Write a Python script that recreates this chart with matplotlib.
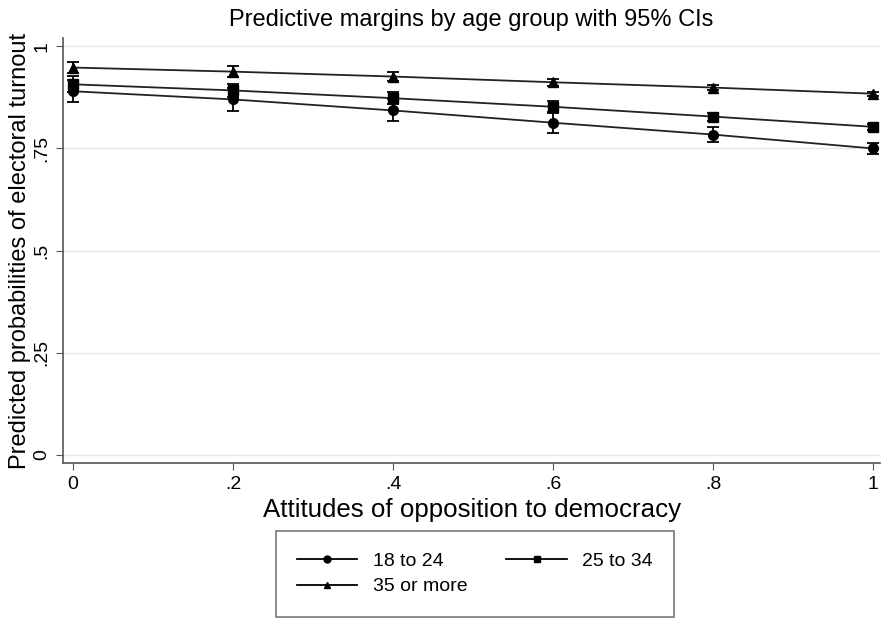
import matplotlib
matplotlib.use("Agg")
import matplotlib.pyplot as plt
from matplotlib.lines import Line2D

plt.rcParams['font.family'] = ['Liberation Sans', 'DejaVu Sans']

x = [0, 0.2, 0.4, 0.6, 0.8, 1.0]
groups = ["18 to 24", "25 to 34", "35 or more"]
y_1824 = [0.890, 0.870, 0.843, 0.813, 0.784, 0.750]
y_2534 = [0.907, 0.892, 0.873, 0.852, 0.828, 0.803]
y_35 = [0.948, 0.938, 0.926, 0.912, 0.899, 0.884]
ci_1824 = [0.027, 0.028, 0.027, 0.024, 0.019, 0.014]
ci_2534 = [0.020, 0.016, 0.014, 0.013, 0.010, 0.008]
ci_35 = [0.013, 0.013, 0.011, 0.009, 0.007, 0.005]
markers = ['o', 's', '^']
xticks = [0, 0.2, 0.4, 0.6, 0.8, 1.0]
xticklabels = ["0", ".2", ".4", ".6", ".8", "1"]
yticks = [0, 0.25, 0.5, 0.75, 1.0]
yticklabels = ["0", ".25", ".5", ".75", "1"]

fig = plt.figure(figsize=(8.82, 6.25), dpi=100)
ax = fig.add_axes([0.0714, 0.259, 0.9266, 0.68])

series = [y_1824, y_2534, y_35]
cis = [ci_1824, ci_2534, ci_35]
handles = []
for ys, ci, m, lab in zip(series, cis, markers, groups):
    ax.errorbar(x, ys, yerr=ci, fmt='none', ecolor='black', elinewidth=1.3,
                capsize=4, capthick=1.3, zorder=3)
    ax.plot(x, ys, color='#222222', lw=1.3, marker=m, ms=7 if m != 's' else 6.5,
            mfc='black', mec='black', zorder=4)
    handles.append(Line2D([0], [0], color='black', lw=1.3, marker=m, ms=5, mfc='black'))

ax.set_xlim(-0.0125, 1.009)
ax.set_ylim(-0.02, 1.02)
ax.set_xticks(xticks)
ax.set_xticklabels(xticklabels, fontsize=14)
ax.set_yticks(yticks)
ax.set_yticklabels(yticklabels, fontsize=14, rotation=90, va='center')
ax.grid(axis='y', color='#e6e6e6', lw=1.0)
ax.set_axisbelow(True)
for s in ['top', 'right']:
    ax.spines[s].set_visible(False)
for s in ['left', 'bottom']:
    ax.spines[s].set_color('#555555')
    ax.spines[s].set_linewidth(1.2)
ax.tick_params(length=5, color='#555555', pad=4)

ax.set_title("Predictive margins by age group with 95% CIs", fontsize=17, pad=9)
ax.set_xlabel("Attitudes of opposition to democracy", fontsize=18.6, labelpad=4)
ax.set_ylabel("Predicted probabilities of electoral turnout", fontsize=17, labelpad=2)

# row-major legend order: 18-24, 25-34 on first row; 35+ on second
order = [0, 2, 1]
leg = fig.legend([handles[i] for i in order], [groups[i] for i in order],
                 loc='upper center', bbox_to_anchor=(475 / 882, 1 - 531 / 625),
                 ncol=2, fontsize=14, frameon=True, fancybox=False,
                 edgecolor='#555555', handlelength=3.1, columnspacing=2.0,
                 borderpad=1.1, handletextpad=0.8, labelspacing=0.4,
                 borderaxespad=0)
leg.get_frame().set_linewidth(1.2)

fig.savefig("out.png", dpi=100)
